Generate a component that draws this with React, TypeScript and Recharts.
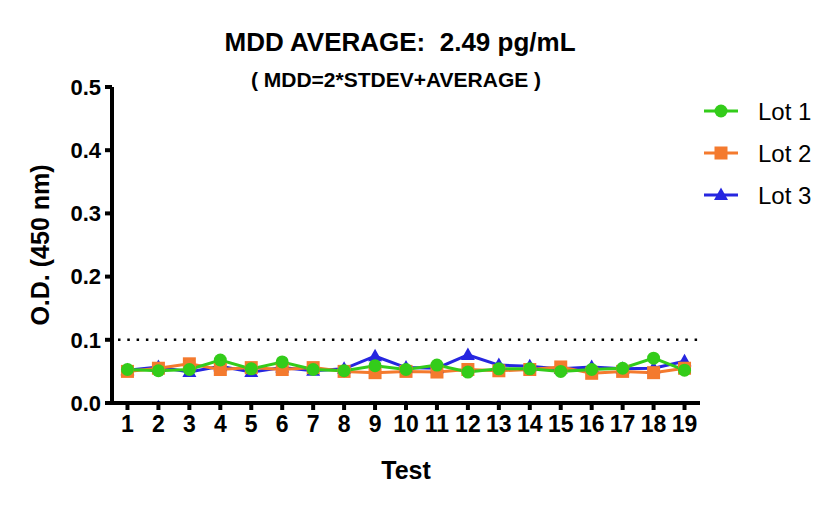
import React from "react";
import { LineChart, Line, XAxis, YAxis, ReferenceLine } from "recharts";

const tests = [1, 2, 3, 4, 5, 6, 7, 8, 9, 10, 11, 12, 13, 14, 15, 16, 17, 18, 19];
const lot1 = [0.053, 0.051, 0.053, 0.068, 0.054, 0.065, 0.053, 0.051, 0.059, 0.053, 0.060, 0.049, 0.054, 0.054, 0.050, 0.053, 0.055, 0.071, 0.052];
const lot2 = [0.050, 0.055, 0.062, 0.053, 0.056, 0.053, 0.056, 0.050, 0.048, 0.050, 0.049, 0.053, 0.051, 0.053, 0.057, 0.047, 0.050, 0.048, 0.055];
const lot3 = [0.052, 0.057, 0.049, 0.058, 0.049, 0.056, 0.051, 0.054, 0.074, 0.056, 0.055, 0.076, 0.060, 0.058, 0.054, 0.057, 0.054, 0.055, 0.066];
const yTicks = [0, 0.1, 0.2, 0.3, 0.4, 0.5];
const mddLimit = 0.1;

const series = [
  { key: "lot1", name: "Lot 1", color: "#33CC1A", shape: "circle" },
  { key: "lot2", name: "Lot 2", color: "#F47A2E", shape: "square" },
  { key: "lot3", name: "Lot 3", color: "#2626E0", shape: "triangle" },
];

const data = tests.map((t, i) => ({ test: t, lot1: lot1[i], lot2: lot2[i], lot3: lot3[i] }));

const FONT = "'Liberation Sans', Arial, sans-serif";

function marker(shape: string, cx: number, cy: number, color: string, key?: string) {
  if (shape === "circle") return <circle key={key} cx={cx} cy={cy} r={6.5} fill={color} />;
  if (shape === "square") return <rect key={key} x={cx - 6.5} y={cy - 6.5} width={13} height={13} fill={color} />;
  return <path key={key} d={`M${cx},${cy - 7.5} L${cx + 7},${cy + 5} L${cx - 7},${cy + 5} Z`} fill={color} />;
}

function makeDot(shape: string, color: string) {
  return (props: any) => marker(shape, props.cx, props.cy, color, `${shape}-${props.index}`);
}

export default function App() {
  // draw Lot 3 first so Lot 1 sits on top, like the original
  const drawOrder = [...series].reverse();
  return (
    <div style={{ position: "absolute", left: 0, top: 0, width: 837, height: 507, background: "#fff" }}>
      <LineChart width={837} height={507} data={data} margin={{ top: 87, right: 137, bottom: 0, left: 0 }}>
        <XAxis
          dataKey="test"
          type="number"
          domain={[0.5, 19.5]}
          ticks={tests}
          interval={0}
          height={104}
          stroke="#000"
          axisLine={{ stroke: "#000", strokeWidth: 4 }}
          tickLine={{ stroke: "#000", strokeWidth: 4 }}
          tickSize={7}
          tickMargin={6}
          tick={{ fill: "#000", fontSize: 23, fontWeight: 700, fontFamily: FONT }}
          label={{ value: "Test", position: "insideBottom", offset: 28, fill: "#000", fontSize: 25, fontWeight: 700, fontFamily: FONT }}
        />
        <YAxis
          type="number"
          domain={[0, 0.5]}
          ticks={yTicks}
          width={112}
          tickFormatter={(v: number) => v.toFixed(1)}
          axisLine={{ stroke: "#000", strokeWidth: 4 }}
          tickLine={{ stroke: "#000", strokeWidth: 4 }}
          tickSize={7}
          tickMargin={4}
          tick={{ fill: "#000", fontSize: 22, fontWeight: 700, fontFamily: FONT }}
          label={{
            value: "O.D. (450 nm)",
            angle: -90,
            position: "insideLeft",
            offset: 40,
            style: { textAnchor: "middle", fill: "#000", fontSize: 25, fontWeight: 700, fontFamily: FONT },
          }}
        />
        <ReferenceLine y={mddLimit} stroke="#000" strokeWidth={2.5} strokeDasharray="2.5 6.8" strokeDashoffset={-6} />
        {drawOrder.map((s) => (
          <Line
            key={s.key}
            dataKey={s.key}
            name={s.name}
            stroke={s.color}
            strokeWidth={3}
            dot={makeDot(s.shape, s.color)}
            activeDot={false}
            isAnimationActive={false}
          />
        ))}
      </LineChart>
      <svg width={837} height={507} style={{ position: "absolute", left: 0, top: 0, pointerEvents: "none" }}>
        <text x={400} y={51} textAnchor="middle" fontSize={26} fontWeight={700} fontFamily={FONT} fill="#000" style={{ whiteSpace: "pre" }}>
          {"MDD AVERAGE:  2.49 pg/mL"}
        </text>
        <text x={396} y={87} textAnchor="middle" fontSize={21} fontWeight={700} fontFamily={FONT} fill="#000" style={{ whiteSpace: "pre" }}>
          {"( MDD=2*STDEV+AVERAGE )"}
        </text>
        {series.map((s, i) => {
          const y = 111 + i * 42;
          return (
            <g key={s.key}>
              <line x1={704} x2={738} y1={y} y2={y} stroke={s.color} strokeWidth={3} />
              {marker(s.shape, 721, y, s.color)}
              <text x={758} y={y + 9} fontSize={24} fontFamily={FONT} fill="#000">
                {s.name}
              </text>
            </g>
          );
        })}
      </svg>
    </div>
  );
}
